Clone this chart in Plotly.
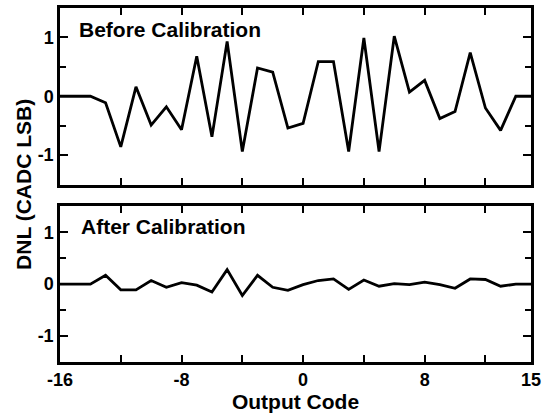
import plotly.graph_objects as go

# Output codes and differential nonlinearity (in CADC LSB)
codes = list(range(-16, 16))
dnl_before = [0, 0, 0, -0.11, -0.86, 0.16, -0.49, -0.18, -0.57, 0.68, -0.69, 0.93,
              -0.94, 0.48, 0.41, -0.54, -0.46, 0.59, 0.59, -0.94, 0.99, -0.94, 1.02,
              0.07, 0.27, -0.38, -0.26, 0.74, -0.20, -0.58, 0, 0]
dnl_after = [0, 0, 0, 0.17, -0.11, -0.11, 0.07, -0.06, 0.03, -0.02, -0.15, 0.28,
             -0.22, 0.17, -0.06, -0.12, -0.01, 0.07, 0.10, -0.10, 0.08, -0.04, 0.01,
             -0.01, 0.04, -0.01, -0.08, 0.10, 0.09, -0.04, 0, 0]

x_tickvals = [-16, -12, -8, -4, 0, 4, 8, 12, 15]
x_ticktext = ["-16", "", "-8", "", "0", "", "8", "", "15"]
y_tickvals = [-1, 0, 1]
y_ticktext = ["-1", "0", "1"]

FONT = "Liberation Sans, Arial, Helvetica, sans-serif"

fig = go.Figure()
fig.add_trace(go.Scatter(x=codes, y=dnl_before, mode="lines",
                         line=dict(color="black", width=2.8),
                         xaxis="x", yaxis="y", showlegend=False))
fig.add_trace(go.Scatter(x=codes, y=dnl_after, mode="lines",
                         line=dict(color="black", width=2.8),
                         xaxis="x2", yaxis="y2", showlegend=False))

tickfont = dict(family=FONT, size=18, color="black", weight="bold")

xcommon = dict(range=[-16, 15], tickmode="array", tickvals=x_tickvals,
               ticks="inside", ticklen=7, tickwidth=2, tickcolor="black",
               showline=True, linewidth=2.5, linecolor="black", mirror="ticks",
               showgrid=False, zeroline=False, tickfont=tickfont)
ycommon = dict(range=[-1.5, 1.5], tickmode="array", tickvals=y_tickvals,
               ticktext=y_ticktext,
               ticks="inside", ticklen=8, tickwidth=2, tickcolor="black",
               minor=dict(tickmode="array", tickvals=[-0.5, 0.5], ticks="inside",
                          ticklen=6, tickwidth=2, tickcolor="black"),
               showline=True, linewidth=2.5, linecolor="black", mirror="ticks",
               showgrid=False, zeroline=False, tickfont=tickfont)

fig.update_layout(
    width=551, height=413,
    margin=dict(l=60, r=20, t=5, b=51),
    paper_bgcolor="white", plot_bgcolor="white",
    xaxis=dict(xcommon, anchor="y", ticktext=[""] * len(x_tickvals)),
    yaxis=dict(ycommon, domain=[0.5014, 1.0], anchor="x"),
    xaxis2=dict(xcommon, anchor="y2", ticktext=x_ticktext,
                title=dict(text="Output Code", standoff=2,
                           font=dict(family=FONT, size=21, color="black",
                                     weight="bold"))),
    yaxis2=dict(ycommon, domain=[0.0, 0.4398], anchor="x2"),
    annotations=[
        dict(text="Before Calibration", x=-14.85, y=1.14, xref="x", yref="y",
             xanchor="left", yanchor="middle", showarrow=False,
             font=dict(family=FONT, size=21, color="black", weight="bold")),
        dict(text="After Calibration", x=-14.75, y=1.11, xref="x2", yref="y2",
             xanchor="left", yanchor="middle", showarrow=False,
             font=dict(family=FONT, size=21, color="black", weight="bold")),
        dict(text="DNL (CADC LSB)", x=-0.078, y=0.501, xref="paper", yref="paper",
             xanchor="center", yanchor="middle", textangle=-90, showarrow=False,
             font=dict(family=FONT, size=21, color="black", weight="bold")),
    ],
)

fig.write_html("out.html")
